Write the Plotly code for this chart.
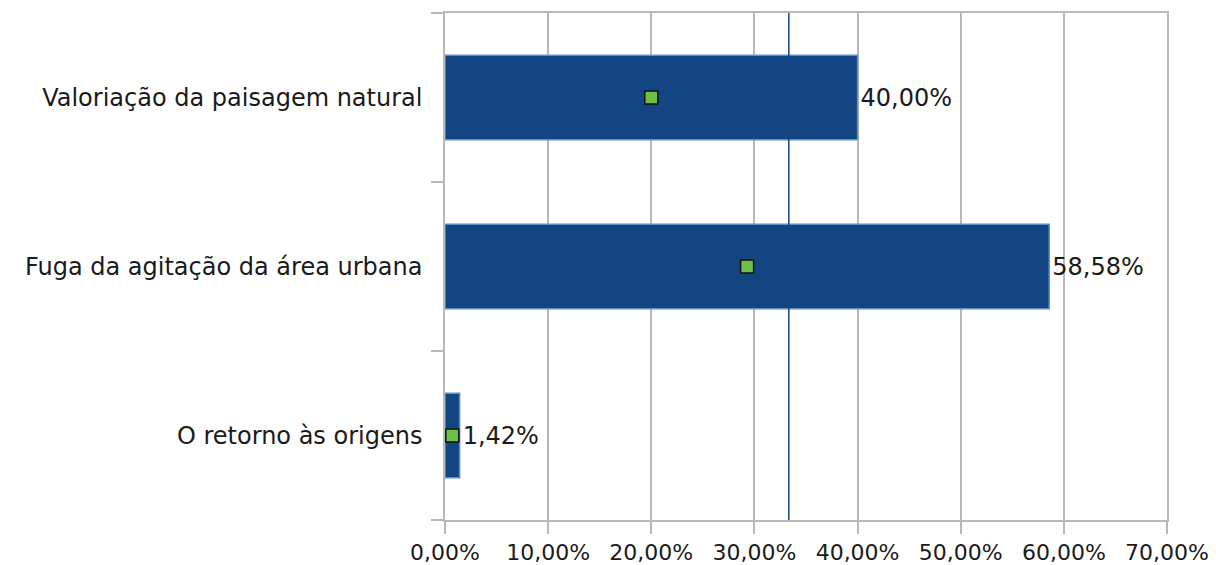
import numpy as np
import plotly.graph_objects as go

# Categories listed bottom-to-top as drawn on the y axis
categories = [
    "O retorno às origens",
    "Fuga da agitação da área urbana",
    "Valoriação da paisagem natural",
]
values = [1.42, 58.58, 40.00]          # percentage per category
x_ticks = [0, 10, 20, 30, 40, 50, 60, 70]
x_tick_labels = [f"{t:.2f}%".replace(".", ",") for t in x_ticks]

mid_points = [v / 2 for v in values]    # centre of each bar
mean_value = float(np.mean(values))     # average reference line

FONT = dict(family="DejaVu Sans", size=24, color="#1a1a1a")
XFONT = dict(family="DejaVu Sans", size=22, color="#1a1a1a")
GRID = "#b8b8b8"
BAR = "#134582"

fig = go.Figure()

fig.add_trace(go.Bar(
    x=values, y=categories, orientation="h",
    width=0.5,
    marker=dict(color=BAR, line=dict(color="#5d8fcc", width=1.5)),
    texttemplate="%{x:.2f}%", textposition="outside",
    textfont=FONT, cliponaxis=False,
    showlegend=False,
))

fig.add_trace(go.Scatter(
    x=mid_points, y=categories, mode="markers",
    marker=dict(symbol="square", size=13, color="#6cc046",
                line=dict(color="#111111", width=1.5)),
    showlegend=False, cliponaxis=False,
))

fig.add_shape(type="line", xref="x", yref="paper",
              x0=mean_value, x1=mean_value, y0=0, y1=1,
              line=dict(color=BAR, width=1.5), layer="above")

fig.update_layout(
    width=1216, height=565,
    margin=dict(l=445, r=49, t=13, b=45),
    paper_bgcolor="white", plot_bgcolor="white",
    font=FONT,
    separators=",.",
    bargap=0.5,
    xaxis=dict(
        range=[0, 70], tickmode="array", tickvals=x_ticks, ticktext=x_tick_labels,
        showgrid=True, gridcolor=GRID, gridwidth=1.5,
        showline=True, linecolor=GRID, linewidth=1.5, mirror=True,
        ticks="outside", ticklen=12, tickcolor=GRID, tickwidth=1.5,
        zeroline=False, tickfont=XFONT, automargin=False,
        ticklabelstandoff=0,
    ),
    yaxis=dict(
        type="category", categoryorder="array", categoryarray=categories,
        range=[-0.5, 2.5],
        showgrid=False, showline=True, linecolor=GRID, linewidth=1.5,
        mirror=True,
        ticks="outside", ticklen=12, tickcolor=GRID, tickwidth=1.5,
        tickson="boundaries", tickfont=FONT, automargin=False,
        ticklabelstandoff=16,
    ),
)

fig.write_html("out.html")
